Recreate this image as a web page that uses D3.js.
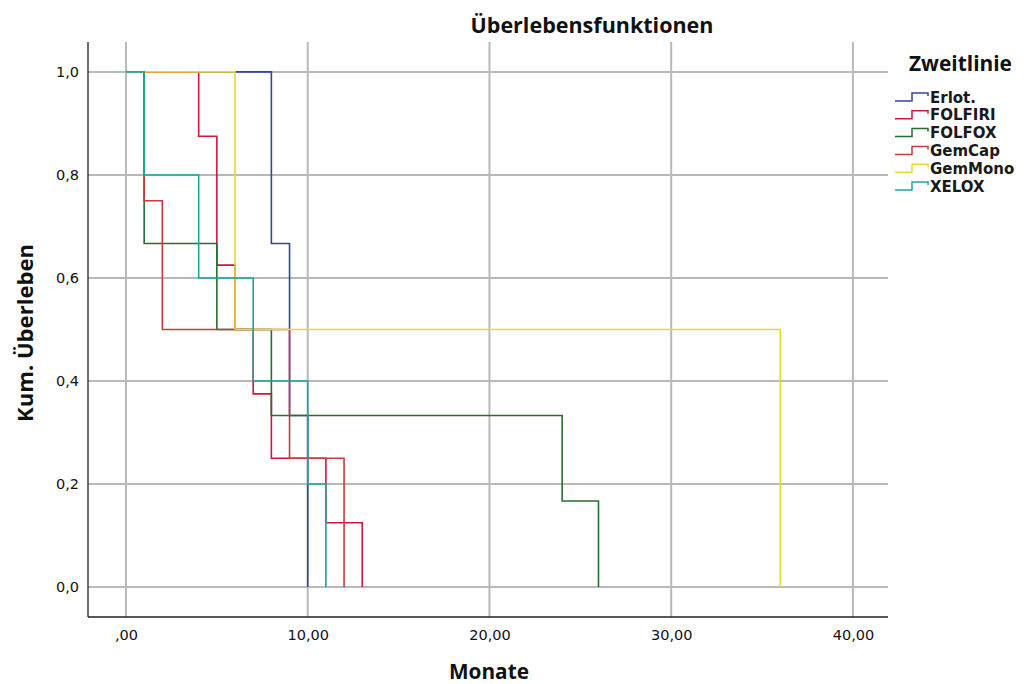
<!DOCTYPE html>
<html>
<head>
<meta charset="utf-8">
<script src="https://cdn.jsdelivr.net/npm/d3@7"></script>
<style>
  html, body { margin: 0; padding: 0; background: #fff; }
  svg { display: block; }
</style>
</head>
<body>
<svg id="chart" width="1028" height="684"></svg>
<script>
// ---------- data ----------
const groups = ["Erlot.", "FOLFIRI", "FOLFOX", "GemCap", "GemMono", "XELOX"];
const colors = ["#30469c", "#d2153d", "#25702e", "#c93a3a", "#e6da2c", "#18a89c"];

const erlotMonths   = [0, 8, 9, 10];
const erlotSurv     = [1, 0.667, 0.333, 0];
const folfiriMonths = [0, 4, 5, 6, 7, 8, 11, 13];
const folfiriSurv   = [1, 0.875, 0.625, 0.5, 0.375, 0.25, 0.125, 0];
const folfoxMonths  = [0, 1, 5, 8, 24, 26];
const folfoxSurv    = [1, 0.667, 0.5, 0.333, 0.167, 0];
const gemcapMonths  = [0, 1, 2, 9, 12];
const gemcapSurv    = [1, 0.75, 0.5, 0.25, 0];
const gemmonoMonths = [0, 6, 36];
const gemmonoSurv   = [1, 0.5, 0];
const xeloxMonths   = [0, 1, 4, 7, 10, 11];
const xeloxSurv     = [1, 0.8, 0.6, 0.4, 0.2, 0];

const xTicks = [0, 10, 20, 30, 40];
const xTickLabels = [",00", "10,00", "20,00", "30,00", "40,00"];
const yTicks = [0, 0.2, 0.4, 0.6, 0.8, 1.0];
const yTickLabels = ["0,0", "0,2", "0,4", "0,6", "0,8", "1,0"];

const title = "Überlebensfunktionen";
const xTitle = "Monate";
const yTitle = "Kum. Überleben";
const legendTitle = "Zweitlinie";

const seriesMonths = [erlotMonths, folfiriMonths, folfoxMonths, gemcapMonths, gemmonoMonths, xeloxMonths];
const seriesSurv   = [erlotSurv, folfiriSurv, folfoxSurv, gemcapSurv, gemmonoSurv, xeloxSurv];

// ---------- layout ----------
const svg = d3.select("#chart");
const L = 88, R = 888, T = 42, B = 617;
const x = d3.scaleLinear().domain([-2.09, 41.93]).range([L, R]);
const y = d3.scaleLinear().domain([-0.058, 1.058]).range([B, T]);

const boldFont = "'Open Sans', 'DejaVu Sans', sans-serif";
const numFont = "'DejaVu Sans', sans-serif";

function fit(sel, w) {
  const fs = parseFloat(sel.attr("font-size"));
  const len = sel.node().getComputedTextLength();
  sel.attr("font-size", (fs * w / len).toFixed(2));
}

// grid
const grid = svg.append("g");
grid.selectAll("line.v").data(xTicks).join("line")
  .attr("x1", d => x(d)).attr("x2", d => x(d))
  .attr("y1", T).attr("y2", B)
  .attr("stroke", "#b9b9b9").attr("stroke-width", 2);
grid.selectAll("line.h").data(yTicks).join("line")
  .attr("x1", L).attr("x2", R)
  .attr("y1", d => y(d)).attr("y2", d => y(d))
  .attr("stroke", "#b9b9b9").attr("stroke-width", 2);

// axes (labels via d3 axes)
const xAxis = svg.append("g").attr("transform", `translate(0,${B})`)
  .call(d3.axisBottom(x).tickValues(xTicks).tickSize(0).tickPadding(13)
        .tickFormat((d, i) => xTickLabels[i]));
xAxis.select(".domain").remove();
xAxis.selectAll("text").attr("font-family", numFont).attr("font-size", 14.5).attr("fill", "#111");

const yAxis = svg.append("g").attr("transform", `translate(${L},0)`)
  .call(d3.axisLeft(y).tickValues(yTicks).tickSize(0).tickPadding(9)
        .tickFormat((d, i) => yTickLabels[i]));
yAxis.select(".domain").remove();
yAxis.selectAll("text").attr("font-family", numFont).attr("font-size", 14.5).attr("fill", "#111");

// axis lines
svg.append("line").attr("x1", L).attr("x2", L).attr("y1", T).attr("y2", B)
  .attr("stroke", "#222").attr("stroke-width", 1.3);
svg.append("line").attr("x1", L).attr("x2", R).attr("y1", B).attr("y2", B)
  .attr("stroke", "#222").attr("stroke-width", 1.3);

// curves
const line = d3.line().x(d => x(d[0])).y(d => y(d[1])).curve(d3.curveStepAfter);
groups.forEach((g, i) => {
  const pts = seriesMonths[i].map((m, j) => [m, seriesSurv[i][j]]);
  svg.append("path").datum(pts)
    .attr("d", line)
    .attr("fill", "none")
    .attr("stroke", colors[i])
    .attr("stroke-width", 1.6);
});

// titles
const t = svg.append("text").text(title)
  .attr("x", 592).attr("y", 33).attr("text-anchor", "middle")
  .attr("font-family", boldFont).attr("font-weight", "bold").attr("font-size", 20).attr("fill", "#111");
fit(t, 243);

const xt = svg.append("text").text(xTitle)
  .attr("x", 489).attr("y", 679).attr("text-anchor", "middle")
  .attr("font-family", boldFont).attr("font-weight", "bold").attr("font-size", 20).attr("fill", "#111");
fit(xt, 80);

const yt = svg.append("text").text(yTitle)
  .attr("transform", "translate(33,333) rotate(-90)").attr("text-anchor", "middle")
  .attr("font-family", boldFont).attr("font-weight", "bold").attr("font-size", 20).attr("fill", "#111");
fit(yt, 178);

// legend
const lt = svg.append("text").text(legendTitle)
  .attr("x", 909).attr("y", 71)
  .attr("font-family", boldFont).attr("font-weight", "bold").attr("font-size", 20).attr("fill", "#111");
fit(lt, 103);

const rowY = d3.scaleLinear().domain([0, 1]).range([97, 114.8]);
const lg = svg.append("g");
groups.forEach((g, i) => {
  const cy = rowY(i);
  lg.append("path")
    .attr("d", `M895,${cy + 4}H912V${cy - 4}H928V${cy - 1}`)
    .attr("fill", "none").attr("stroke", colors[i]).attr("stroke-width", 1.5);
  lg.append("text").text(g)
    .attr("x", 930).attr("y", cy + 5.5)
    .attr("font-family", numFont).attr("font-weight", "bold")
    .attr("font-size", 15).attr("fill", "#1a1a1a");
});
</script>
</body>
</html>
